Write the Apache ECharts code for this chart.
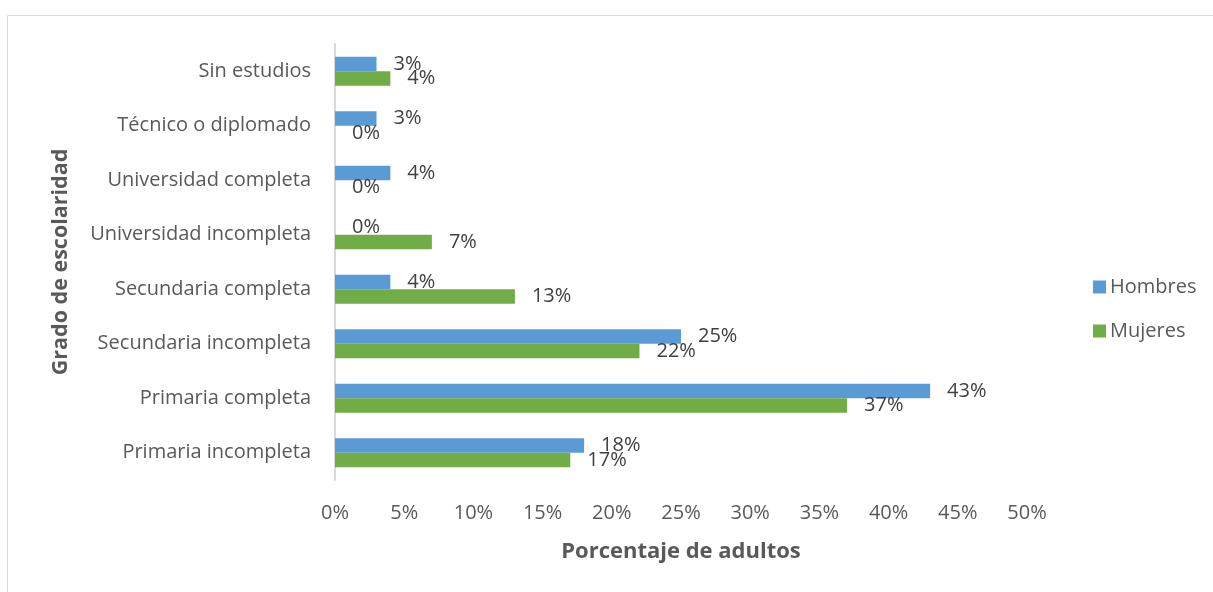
<!DOCTYPE html>
<html><head><meta charset="utf-8">
<script src="https://cdn.jsdelivr.net/npm/echarts@6/dist/echarts.min.js"></script>
<style>html,body{margin:0;padding:0;background:#fff}#c{width:1213px;height:592px}</style>
</head><body><div id="c"></div>
<script>
const categories = ['Primaria incompleta','Primaria completa','Secundaria incompleta','Secundaria completa','Universidad incompleta','Universidad completa','Técnico o diplomado','Sin estudios'];
const hombres = [18,43,25,4,0,4,3,3];
const mujeres = [17,37,22,13,7,0,0,4];
const xTicks = [0,5,10,15,20,25,30,35,40,45,50];
const FONT = 'Open Sans';
const chart = echarts.init(document.getElementById('c'));
const lbl = {show:true, position:'right', distance:17, formatter: p => p.value + '%', color:'#404040', fontSize:20, fontFamily:FONT};
chart.setOption({
  animation:false,
  textStyle:{fontFamily:FONT},
  graphic:[{type:'rect', shape:{x:7.5,y:15.5,width:1220,height:600}, style:{fill:'none', stroke:'#d9d9d9', lineWidth:1}, silent:true}],
  grid:{left:335, right:186, top:44, bottom:112},
  legend:{orient:'vertical', left:1088, top:272, itemWidth:13, itemHeight:13, itemGap:24, icon:'rect',
    textStyle:{fontSize:20, color:'#595959', fontFamily:FONT, padding:[0,0,0,-1]}, data:['Hombres','Mujeres']},
  xAxis:{type:'value', min:0, max:50, interval:5,
    axisLabel:{formatter: v => xTicks.includes(v) ? v + '%' : '', color:'#595959', fontSize:20, fontFamily:FONT, margin:23},
    axisLine:{show:false}, axisTick:{show:false}, splitLine:{show:false},
    name:'Porcentaje de adultos', nameLocation:'middle', nameGap:61,
    nameTextStyle:{fontSize:22, fontWeight:'bold', color:'#595959', fontFamily:FONT}},
  yAxis:{type:'category', data:categories,
    axisLabel:{color:'#595959', fontSize:20, fontFamily:FONT, margin:24},
    axisLine:{show:true, lineStyle:{color:'#d9d9d9', width:2}}, axisTick:{show:false},
    name:'Grado de escolaridad', nameLocation:'middle', nameGap:263, nameRotate:90,
    nameTextStyle:{fontSize:21.5, fontWeight:'bold', color:'#595959', fontFamily:FONT}},
  series:[
    {name:'Hombres', type:'bar', data:hombres, barWidth:14.5, barGap:'0%', itemStyle:{color:'#5B9BD5'}, label:lbl},
    {name:'Mujeres', type:'bar', data:mujeres, barWidth:14.5, barGap:'0%', itemStyle:{color:'#70AD47'}, label:lbl}
  ]
});
</script></body></html>
